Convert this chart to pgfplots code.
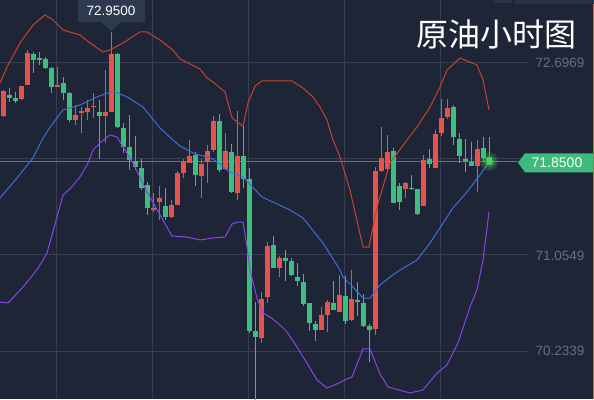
\documentclass[border=0pt]{standalone}
\usepackage{fontspec}
\setmainfont{Liberation Sans}
\newfontfamily\cjk{Noto Sans CJK SC}
\usepackage{pgfplots}
\pgfplotsset{compat=1.18}
\usepackage{pgfplotstable}

\definecolor{bgc}{HTML}{1E2537}
\definecolor{gridc}{HTML}{363E52}
\definecolor{upc}{HTML}{E8524C}
\definecolor{dnc}{HTML}{3BBE7E}
\definecolor{ubc}{HTML}{C9412D}
\definecolor{mbc}{HTML}{3C6FDA}
\definecolor{lbc}{HTML}{8B42E8}
\definecolor{tagc}{HTML}{3DBB7D}
\definecolor{linec}{HTML}{2E9466}
\definecolor{boxc}{HTML}{2D394E}
\definecolor{lblc}{HTML}{666E7E}
\definecolor{orc}{HTML}{D9662A}
\definecolor{stripc}{HTML}{2A3346}
\definecolor{glowc}{HTML}{4CD65C}

% red = rising candles (open < close)
\pgfplotstableread{
i o h l c
0 72.237 72.458 72.228 72.450
3 72.382 72.492 72.373 72.492
4 72.501 72.799 72.501 72.774
9 72.484 72.654 72.484 72.501
12 72.203 72.330 72.160 72.245
13 72.262 72.313 72.092 72.279
14 72.271 72.373 72.203 72.305
15 72.313 72.433 72.220 72.322
17 72.237 72.629 72.007 72.271
18 72.271 72.950 72.271 72.765
25 71.444 71.580 71.418 71.453
26 71.504 71.640 71.350 71.538
28 71.376 71.521 71.367 71.478
29 71.478 71.768 71.478 71.751
30 71.751 71.870 71.708 71.845
31 71.836 72.032 71.836 71.896
33 71.725 71.870 71.538 71.828
34 71.845 71.990 71.666 71.938
35 71.947 72.237 71.930 72.194
37 71.785 72.092 71.776 71.938
39 71.580 72.279 71.521 71.896
43 70.345 70.737 70.302 70.677
44 70.694 71.163 70.643 71.129
46 70.941 71.043 70.864 71.026
53 70.413 70.609 70.413 70.541
54 70.541 70.668 70.396 70.651
56 70.566 70.882 70.566 70.711
58 70.498 70.924 70.489 70.677
62 70.421 71.802 70.370 71.768
63 71.768 72.143 71.759 71.879
64 71.785 72.075 71.759 71.930
67 71.615 71.674 71.538 71.666
70 71.470 71.904 71.470 71.862
72 71.793 72.117 71.793 72.083
73 72.092 72.382 72.066 72.220
74 72.228 72.382 72.211 72.305
79 71.811 72.032 71.589 71.955
}\upcandles

% green = falling candles (open > close)
\pgfplotstableread{
i o h l c
1 72.416 72.475 72.356 72.390
2 72.390 72.441 72.347 72.364
5 72.765 72.782 72.603 72.714
6 72.731 72.782 72.671 72.722
7 72.722 72.740 72.637 72.646
8 72.646 72.654 72.433 72.484
10 72.518 72.569 72.373 72.433
11 72.433 72.441 72.186 72.203
16 72.271 72.373 71.870 72.237
19 72.765 72.774 72.134 72.143
20 72.134 72.177 71.921 71.972
21 71.972 72.245 71.776 71.862
22 71.853 72.066 71.776 71.802
23 71.793 71.870 71.606 71.623
24 71.649 71.674 71.393 71.453
27 71.470 71.623 71.350 71.376
32 71.904 71.930 71.640 71.734
36 72.194 72.254 71.759 71.776
38 71.930 71.998 71.580 71.589
40 71.896 72.151 71.623 71.700
41 71.700 71.793 70.387 70.404
42 70.404 70.651 69.816 70.353
45 71.137 71.214 70.941 70.941
47 71.026 71.095 70.830 71.001
48 71.001 71.026 70.873 70.882
49 70.864 70.984 70.788 70.830
50 70.822 70.890 70.617 70.634
51 70.643 70.643 70.404 70.472
52 70.464 70.489 70.319 70.413
55 70.643 70.830 70.583 70.583
57 70.703 70.873 70.464 70.489
59 70.668 70.822 70.532 70.651
60 70.643 70.720 70.438 70.447
61 70.447 70.464 70.140 70.413
65 71.938 71.964 71.495 71.495
66 71.640 71.666 71.436 71.504
68 71.623 71.734 71.606 71.615
69 71.615 71.615 71.393 71.401
71 71.870 71.955 71.793 71.828
75 72.313 72.330 71.990 72.058
76 72.041 72.092 71.836 71.896
77 71.870 72.041 71.759 71.853
78 71.845 72.015 71.811 71.811
80 71.964 72.058 71.845 71.879
81 71.887 72.058 71.836 71.850
}\dncandles

\pgfplotstableread{
x v
-0.55 72.518
0.62 72.654
2.78 72.859
4.95 73.012
6.95 73.098
8.28 73.055
9.95 72.970
12.78 72.927
14.45 72.859
16.62 72.782
17.78 72.799
19.95 72.859
22.78 72.953
23.95 72.953
26.12 72.884
28.28 72.799
29.45 72.722
31.12 72.680
32.78 72.637
33.95 72.561
34.95 72.526
36.95 72.441
38.12 72.220
39.95 72.151
40.78 72.347
41.95 72.492
43.12 72.535
44.95 72.535
48.12 72.535
49.95 72.475
51.62 72.399
52.78 72.313
53.95 72.203
54.95 72.032
56.12 71.887
57.78 71.606
59.95 71.120
60.95 71.120
62.28 71.461
62.78 71.546
64.45 71.836
67.28 72.032
68.95 72.143
71.12 72.313
72.78 72.484
73.95 72.629
76.12 72.731
78.95 72.671
79.95 72.544
80.95 72.288
}\upperband

\pgfplotstableread{
x v
-0.55 71.538
2.28 71.708
4.95 71.879
6.45 72.032
7.45 72.117
9.95 72.288
12.78 72.330
15.62 72.399
18.28 72.450
20.62 72.399
23.28 72.313
26.12 72.134
28.28 72.032
29.45 71.981
31.62 71.921
32.78 71.904
34.95 71.870
37.78 71.759
39.95 71.717
43.12 71.546
45.62 71.487
47.78 71.436
49.95 71.367
53.28 71.154
56.12 70.924
56.62 70.864
58.28 70.779
59.95 70.685
61.12 70.685
62.78 70.796
64.45 70.864
66.12 70.924
68.95 71.009
71.12 71.154
74.95 71.453
77.28 71.589
79.45 71.734
80.95 71.845
}\midband

\pgfplotstableread{
x v
-0.55 70.651
0.78 70.643
3.28 70.779
4.95 70.882
5.78 70.941
6.62 71.009
7.28 71.069
8.95 71.376
9.95 71.563
11.12 71.615
12.78 71.717
14.12 71.836
14.95 71.947
16.12 72.007
17.78 72.075
18.95 72.058
21.62 71.836
23.95 71.589
28.12 71.214
30.62 71.205
32.78 71.180
34.95 71.197
36.95 71.205
38.12 71.316
39.12 71.333
39.95 71.333
40.62 71.120
41.12 70.924
42.28 70.685
43.28 70.558
44.45 70.524
46.12 70.455
47.28 70.396
48.95 70.268
50.62 70.131
52.28 69.987
53.95 69.918
55.62 69.953
57.28 69.995
58.12 70.012
59.95 70.251
61.12 70.251
62.78 70.038
64.12 69.927
67.78 69.876
69.95 69.901
72.28 70.046
73.95 70.114
75.78 70.302
77.78 70.609
78.95 70.754
79.95 71.009
80.95 71.418
}\lowband

\pgfplotsset{
  candle/.style 2 args={only marks, mark=*, mark size=0pt,
    mark options={draw=none, fill=none},
    error bars/.cd, y dir=both, y explicit, error mark=none,
    error bar style={draw=#1, line width=#2}},
  glow/.style 2 args={only marks, mark=*, mark size=#1,
    mark options={draw=glowc, fill=glowc, line width=0pt, opacity=#2}},
}

\begin{document}
\begin{tikzpicture}
\begin{axis}[
  name=ax, at={(0,0)}, anchor=south west,
  scale only axis, width=594pt, height=399pt,
  xmin=-0.55, xmax=98.45, ymin=69.8246, ymax=73.2253,
  axis background/.style={fill=bgc},
  axis line style={draw=none},
  xtick={8.9,24.9,40.9,56.9,72.9}, ytick=\empty,
  xticklabels={,,,,,}, major tick length=0pt,
  xmajorgrids, major grid style={draw=gridc, line width=0.8pt},
  clip mode=individual,
]
% horizontal grid lines (stop before the price labels)
\addplot[gridc, line width=0.8pt] coordinates {(-0.55,72.6969) (87.45,72.6969)};
\addplot[gridc, line width=0.8pt] coordinates {(-0.55,71.8759) (87.45,71.8759)};
\addplot[gridc, line width=0.8pt] coordinates {(-0.55,71.0549) (87.45,71.0549)};
\addplot[gridc, line width=0.8pt] coordinates {(-0.55,70.2339) (87.45,70.2339)};
% last price line
\addplot[linec, line width=0.8pt] coordinates {(-0.55,71.85) (85.8,71.85)};

% wicks
\addplot[candle={upc}{1pt}]
  table[x=i, y expr={(\thisrow{h}+\thisrow{l})/2}, y error expr={(\thisrow{h}-\thisrow{l})/2}] {\upcandles};
\addplot[candle={dnc}{1pt}]
  table[x=i, y expr={(\thisrow{h}+\thisrow{l})/2}, y error expr={(\thisrow{h}-\thisrow{l})/2}] {\dncandles};
% bodies
\addplot[candle={upc}{5pt}]
  table[x=i, y expr={(\thisrow{o}+\thisrow{c})/2}, y error expr={max(abs(\thisrow{c}-\thisrow{o})/2,0.0045)}] {\upcandles};
\addplot[candle={dnc}{5pt}]
  table[x=i, y expr={(\thisrow{o}+\thisrow{c})/2}, y error expr={max(abs(\thisrow{c}-\thisrow{o})/2,0.0045)}] {\dncandles};

% Bollinger bands
\addplot[ubc, line width=1pt] table[x=x, y=v] {\upperband};
\addplot[mbc, line width=1pt] table[x=x, y=v] {\midband};
\addplot[lbc, line width=1pt] table[x=x, y=v] {\lowband};

% glow on last price
\addplot[glow={9pt}{0.10}] coordinates {(81,71.85)};
\addplot[glow={7pt}{0.15}] coordinates {(81,71.85)};
\addplot[glow={5pt}{0.25}] coordinates {(81,71.85)};
\addplot[glow={3.5pt}{0.45}] coordinates {(81,71.85)};
\addplot[glow={2pt}{0.9}] coordinates {(81,71.85)};
\end{axis}

% title
\node[text=white, font=\cjk\fontsize{32}{36}\selectfont] at (496pt,365pt) {原油小时图};
% high tag
\fill[boxc] (78pt,377pt) rectangle (145pt,399pt);
\fill[boxc] (101pt,377pt) -- (111pt,368pt) -- (121pt,377pt) -- cycle;
\node[text=white, font=\fontsize{13.5}{16}\selectfont] at (111pt,388.5pt) {72.9500};
% axis value labels
\node[text=lblc, font=\fontsize{13.5}{16}\selectfont] at (560pt,336pt) {72.6969};
\node[text=lblc, font=\fontsize{13.5}{16}\selectfont] at (560pt,143pt) {71.0549};
\node[text=lblc, font=\fontsize{13.5}{16}\selectfont] at (560pt,48pt) {70.2339};
% last price tag
\fill[tagc] (518pt,236.3pt) -- (525pt,245.7pt) -- (594pt,245.7pt) -- (594pt,226.7pt) -- (525pt,226.7pt) -- cycle;
\node[text=white, font=\fontsize{14}{16}\selectfont] at (557pt,236.5pt) {71.8500};
% right edge details
\draw[orc, line width=1pt] (593.4pt,0pt) -- (593.4pt,395pt);
\fill[stripc] (515pt,395pt) rectangle (594pt,399pt);
\fill[stripc] (493pt,396pt) rectangle (512pt,399pt);

\pgfresetboundingbox
\path (0,0) rectangle (594pt,399pt);
\end{tikzpicture}
\end{document}
